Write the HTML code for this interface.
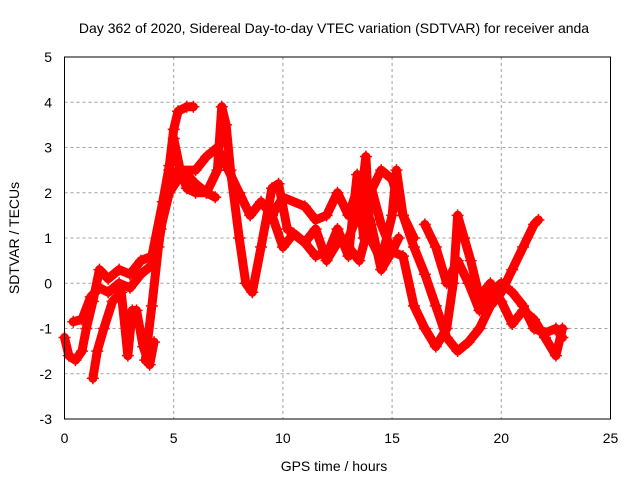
<!DOCTYPE html>
<html><head><meta charset="utf-8"><style>
body{margin:0;background:#fff;}
svg{display:block;font-family:"Liberation Sans",sans-serif;}
</style></head><body>
<svg id="chart" width="640" height="480">
<rect width="640" height="480" fill="#fff"/>
<text x="334" y="33" font-size="14" text-anchor="middle">Day 362 of 2020, Sidereal Day-to-day VTEC variation (SDTVAR) for receiver anda</text>
<g id="grid"></g>
<g id="series"></g>
<rect x="64.5" y="57" width="546" height="362" fill="none" stroke="#000" stroke-width="1"/>
<g id="axes"></g>
<text x="334" y="471" font-size="14" text-anchor="middle">GPS time / hours</text>
<text transform="translate(19,238) rotate(-90)" font-size="14" text-anchor="middle">SDTVAR / TECUs</text>
</svg>
<script>
const xTicks=[0,5,10,15,20,25];
const yTicks=[-3,-2,-1,0,1,2,3,4,5];
const tA=[0,0.2,0.5,0.8,1.0,1.3,1.6,2.0,2.5,3.0,3.5,4.0,4.5,4.8,5.0,5.2,5.6,5.9];
const vA=[-1.2,-1.6,-1.7,-1.5,-1.0,-0.4,0.3,0.1,0.3,0.2,0.5,0.6,1.8,2.6,3.4,3.8,3.9,3.9];
const tB=[0.4,0.8,1.2,1.6,2.0,2.5,3.0,3.5,4.0,4.4,4.8,5.2,5.6,6.0,6.5,6.9];
const vB=[-0.85,-0.8,-0.3,-0.1,-0.2,0.0,-0.1,0.2,0.4,1.2,2.0,2.3,2.4,2.2,2.0,1.9];
const tC=[1.3,1.5,1.8,2.2,2.6,2.9,3.1,3.3,3.6,3.9,4.1];
const vC=[-2.1,-1.5,-1.0,-0.4,-0.2,-1.6,-0.6,-0.6,-1.4,-1.8,-1.3];
const tD=[3.7,4.0,4.3,4.6,4.8,5.0,5.3,5.6,6.0,6.5,7.0,7.2,7.4,7.6,8.0,8.3,8.6,9.0,9.5,9.8,10.2,11.0,11.5,12.0];
const vD=[-1.7,-0.5,0.8,1.8,2.5,3.2,2.5,2.1,2.0,2.0,2.5,3.9,3.5,2.5,1.0,0.0,-0.2,0.8,2.1,2.2,1.2,0.9,0.6,0.7];
const tE=[4.8,5.2,6.0,6.5,7.0,7.5,8.0,8.5,9.0,9.5,10.0,11.0,11.5,12.0,12.5,13.0,13.5,14.0,14.5,15.0,15.3];
const vE=[2.0,2.5,2.5,2.8,3.0,2.5,2.0,1.5,1.8,1.5,1.9,1.7,1.4,1.5,2.0,1.5,2.2,2.2,1.3,0.7,1.0];
const tF=[12.0,12.5,13.0,13.4,13.7,14.0,14.5,15.0,15.5,16.0,16.5,17.0,17.5,18.0,18.5,19.0,19.5,20.0,20.5,21.0,21.5,21.7];
const vF=[0.6,1.2,0.6,2.4,1.0,2.0,2.5,2.3,1.5,0.8,0.2,-0.5,-1.2,-1.5,-1.3,-1.0,-0.5,-0.2,0.3,0.8,1.3,1.4];
const tG=[13.0,13.5,14.0,14.5,15.0,15.5,16.0,16.5,17.0,17.5,17.8,18.0,18.3,18.6,19.0,19.5,20.0,20.5,21.0,21.5,22.0,22.5,22.8];
const vG=[0.8,0.5,1.4,0.3,0.7,0.6,-0.5,-1.0,-1.4,-1.0,0.0,1.5,1.0,0.5,-0.3,0.0,-0.4,-0.9,-0.6,-0.8,-1.2,-1.6,-1.0];
const tH=[16.5,17.0,17.5,18.0,18.5,19.0,19.5,20.0,20.5,21.0,21.5,22.0,22.5,22.8];
const vH=[1.3,0.8,0.0,0.5,0.0,-0.6,-0.2,0.0,-0.2,-0.5,-1.0,-1.1,-1.0,-1.2];
const tI=[9.5,10.0,10.5,11.0,11.5,12.0,12.5,13.0,13.5,13.8,14.0,14.5,15.0,15.2,15.5,16.0];
const vI=[1.5,0.8,1.1,0.9,1.2,0.5,0.9,1.0,1.6,2.8,1.0,0.5,1.5,2.5,1.5,1.0];
const seriesT=[tA,tB,tC,tD,tE,tF,tG,tH,tI];
const seriesV=[vA,vB,vC,vD,vE,vF,vG,vH,vI];
const NS='http://www.w3.org/2000/svg';
const X=t=>64.5+t*546/25;
const Y=v=>419-(v+3)*362/8;
function mk(tag,attrs,parent){const e=document.createElementNS(NS,tag);for(const k in attrs)e.setAttribute(k,attrs[k]);parent.appendChild(e);return e;}
const grid=document.getElementById('grid'),axes=document.getElementById('axes'),ser=document.getElementById('series');
xTicks.forEach(t=>{
  if(t>0&&t<25){const g=mk('line',{x1:X(t),x2:X(t),y1:57,y2:419,stroke:'#a0a0a0','stroke-dasharray':'3,3'},grid);
  
  }
  const l=mk('text',{x:X(t),y:443,'font-size':14,'text-anchor':'middle'},axes);l.textContent=t;
  
  
});
yTicks.forEach(v=>{
  if(v>-3&&v<5){const g=mk('line',{x1:64.5,x2:610.5,y1:Y(v),y2:Y(v),stroke:'#a0a0a0','stroke-dasharray':'3,3'},grid);
  
  }
  const l=mk('text',{x:52,y:Y(v)+5,'font-size':14,'text-anchor':'end'},axes);l.textContent=v;
  
  
});
seriesT.forEach((ts,i)=>{
  const vs=seriesV[i];
  const g=mk('g',{},ser);
  
  
  const pts=ts.map((t,j)=>X(t)+','+Y(vs[j])).join(' ');
  mk('polyline',{points:pts,fill:'none',stroke:'#ff0000','stroke-width':9,'stroke-linejoin':'round','stroke-linecap':'round'},g);
  ts.forEach((t,j)=>{
    const x=X(t),y=Y(vs[j]);
    mk('path',{d:`M${x-6},${y}H${x+6}M${x},${y-6}V${y+6}`,stroke:'#ff0000','stroke-width':1.5},g);
  });
});
</script>
</body></html>
